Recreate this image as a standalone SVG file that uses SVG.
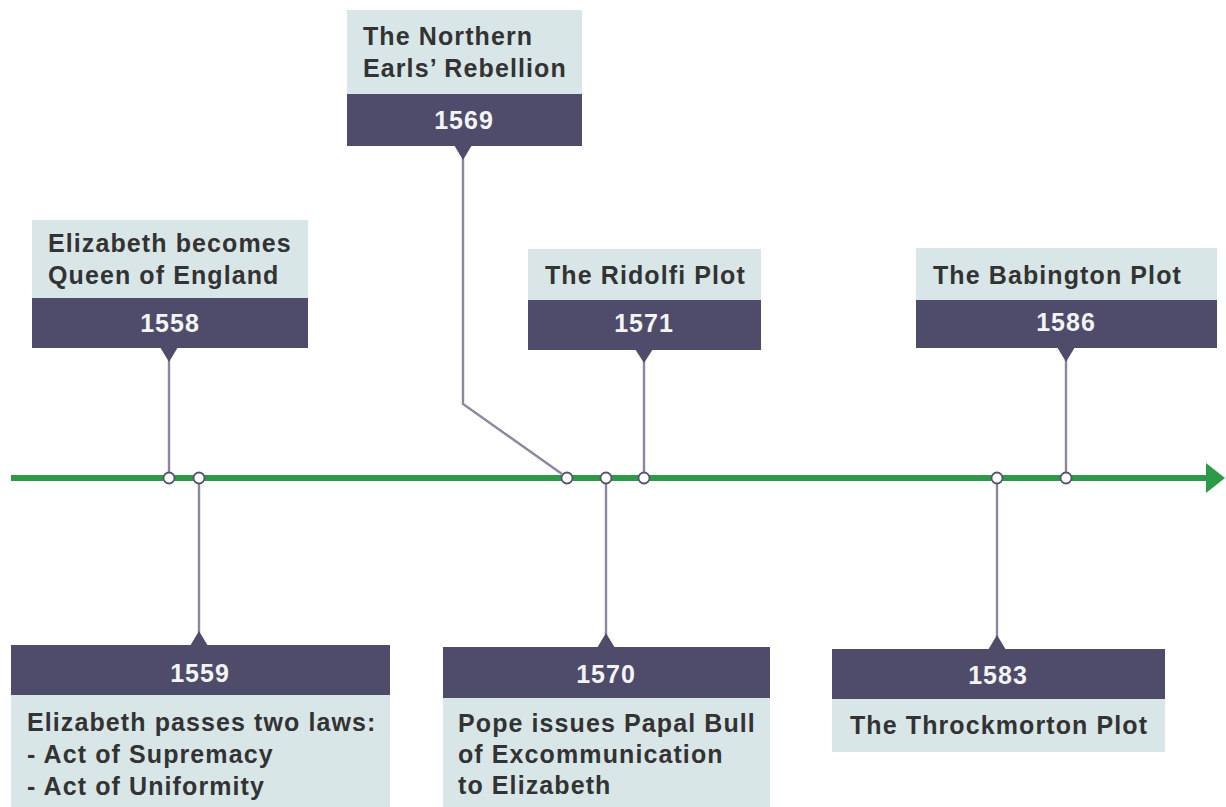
<svg xmlns="http://www.w3.org/2000/svg" width="1226" height="807" viewBox="0 0 1226 807">
<style>
.lt{fill:#d9e6e8}
.dk{fill:#4e4c6a}
.tx{font-family:"Liberation Sans",Arial,sans-serif;font-weight:bold;font-size:25px;letter-spacing:1.1px;fill:#333333}
.yr{font-family:"Liberation Sans",Arial,sans-serif;font-weight:bold;font-size:25px;letter-spacing:1px;fill:#f4f4f6;text-anchor:middle}
.cn{fill:none;stroke:#8a88a0;stroke-width:2.4}
.dot{fill:#ffffff;stroke:#55536d;stroke-width:1.8}
</style>
<rect width="1226" height="807" fill="#ffffff"/>
<g id="timeline">
<line x1="11" y1="478" x2="1210" y2="478" stroke="#2c9b47" stroke-width="6"/>
<polygon points="1206,463 1225,478 1206,493" fill="#2c9b47"/>
</g>
<g id="connectors">
<polyline class="cn" points="169,360 169,472"/>
<polyline class="cn" points="463,158 463,404 562,474"/>
<polyline class="cn" points="644,361 644,472"/>
<polyline class="cn" points="1066,360 1066,472"/>
<polyline class="cn" points="199,484 199,633"/>
<polyline class="cn" points="606,484 606,635"/>
<polyline class="cn" points="997,484 997,637"/>
<circle class="dot" cx="169" cy="478" r="5.5"/>
<circle class="dot" cx="199" cy="478" r="5.5"/>
<circle class="dot" cx="567" cy="478" r="5.5"/>
<circle class="dot" cx="606" cy="478" r="5.5"/>
<circle class="dot" cx="644" cy="478" r="5.5"/>
<circle class="dot" cx="997" cy="478" r="5.5"/>
<circle class="dot" cx="1066" cy="478" r="5.5"/>
</g>
<g id="n1558">
<rect class="lt" x="32" y="220" width="276" height="78"/>
<rect class="dk" x="32" y="298" width="276" height="50"/>
<polygon class="dk" points="160,347 178,347 169,362"/>
<text class="tx" x="48" y="252">Elizabeth becomes</text>
<text class="tx" x="48" y="284">Queen of England</text>
<text class="yr" x="170" y="332">1558</text>
</g>
<g id="n1569">
<rect class="lt" x="347" y="10" width="235" height="84"/>
<rect class="dk" x="347" y="94" width="235" height="52"/>
<polygon class="dk" points="454,145 472,145 463,160"/>
<text class="tx" x="363" y="45">The Northern</text>
<text class="tx" x="363" y="77">Earls’ Rebellion</text>
<text class="yr" x="464" y="129">1569</text>
</g>
<g id="n1571">
<rect class="lt" x="528" y="249" width="233" height="51"/>
<rect class="dk" x="528" y="300" width="233" height="50"/>
<polygon class="dk" points="635,349 653,349 644,363"/>
<text class="tx" x="545" y="284">The Ridolfi Plot</text>
<text class="yr" x="644" y="332">1571</text>
</g>
<g id="n1586">
<rect class="lt" x="916" y="248" width="301" height="52"/>
<rect class="dk" x="916" y="300" width="301" height="48"/>
<polygon class="dk" points="1057,347 1075,347 1066,362"/>
<text class="tx" x="933" y="284">The Babington Plot</text>
<text class="yr" x="1066" y="331">1586</text>
</g>
<g id="n1559">
<polygon class="dk" points="190,646 208,646 199,631"/>
<rect class="dk" x="11" y="645" width="379" height="50"/>
<rect class="lt" x="11" y="695" width="379" height="112"/>
<text class="yr" x="200" y="682">1559</text>
<text class="tx" x="27" y="731">Elizabeth passes two laws:</text>
<text class="tx" x="27" y="763">- Act of Supremacy</text>
<text class="tx" x="27" y="795">- Act of Uniformity</text>
</g>
<g id="n1570">
<polygon class="dk" points="597,648 615,648 606,633"/>
<rect class="dk" x="443" y="647" width="327" height="51"/>
<rect class="lt" x="443" y="698" width="327" height="109"/>
<text class="yr" x="606" y="683">1570</text>
<text class="tx" x="458" y="732">Pope issues Papal Bull</text>
<text class="tx" x="458" y="763">of Excommunication</text>
<text class="tx" x="458" y="794">to Elizabeth</text>
</g>
<g id="n1583">
<polygon class="dk" points="988,650 1006,650 997,635"/>
<rect class="dk" x="832" y="649" width="333" height="50"/>
<rect class="lt" x="832" y="699" width="333" height="53"/>
<text class="yr" x="998" y="684">1583</text>
<text class="tx" x="850" y="734">The Throckmorton Plot</text>
</g>
</svg>
